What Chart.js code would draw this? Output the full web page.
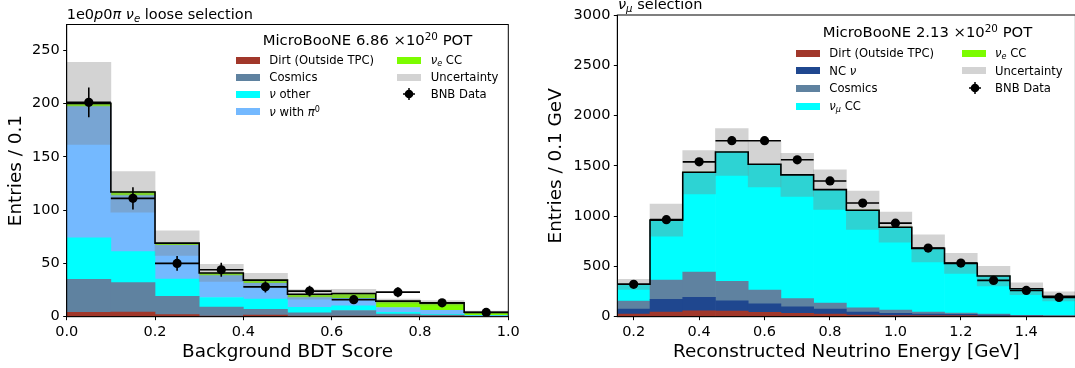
<!DOCTYPE html>
<html><head><meta charset="utf-8">
<script src="https://cdn.jsdelivr.net/npm/chart.js@4.4.1/dist/chart.umd.min.js"></script>
<style>
html,body{margin:0;padding:0;overflow:hidden;background:#fff;width:1075px;height:368px;}
body{position:relative;font-family:"DejaVu Sans",sans-serif;color:#000;}
canvas{position:absolute;top:0;}
#c1{left:0;} #c2{left:540px;}
.t{position:absolute;white-space:nowrap;line-height:14.5px;font-size:14.5px;}
.lt{position:absolute;white-space:nowrap;line-height:18px;font-size:14.8px;}
.li{position:absolute;white-space:nowrap;line-height:14px;font-size:11.6px;}
.sw{position:absolute;width:24px;height:7px;}
.sup{font-size:70%;position:relative;top:-0.5em;}
.sub{font-size:70%;position:relative;top:0.3em;}
.mk{position:absolute;width:14px;height:14px;}
</style>
</head><body>
<canvas id="c1" width="540" height="368"></canvas>
<canvas id="c2" width="540" height="368"></canvas>

<div class="t" style="left:66.7px;top:6.7px;">1e0<i>p</i>0<i>π</i> <i>ν</i><span class="sub"><i>e</i></span> loose selection</div>
<div class="t" style="left:618px;top:-2.8px;"><i>ν</i><span class="sub"><i>μ</i></span> selection</div>

<!-- left legend -->
<div class="lt" style="left:262.7px;top:31px;">MicroBooNE 6.86 ×10<span class="sup">20</span> POT</div>
<div class="sw" style="left:236px;top:56.5px;background:#a1372a"></div><div class="li" style="left:269.3px;top:53px;">Dirt (Outside TPC)</div>
<div class="sw" style="left:236px;top:73.8px;background:#5f82a0"></div><div class="li" style="left:269.3px;top:70.3px;">Cosmics</div>
<div class="sw" style="left:236px;top:90.5px;background:#00ffff"></div><div class="li" style="left:269.3px;top:87px;"><i>ν</i> other</div>
<div class="sw" style="left:236px;top:108.2px;background:#74b9ff"></div><div class="li" style="left:269.3px;top:104.7px;"><i>ν</i> with <i>π</i><span class="sup">0</span></div>
<div class="sw" style="left:396.7px;top:56.5px;background:#7cfc00"></div><div class="li" style="left:430.7px;top:53px;"><i>ν</i><span class="sub"><i>e</i></span> CC</div>
<div class="sw" style="left:396.7px;top:73.8px;background:#d3d3d3"></div><div class="li" style="left:430.7px;top:70.3px;">Uncertainty</div>
<svg class="mk" style="left:401.7px;top:87px;" viewBox="0 0 14 14"><line x1="1" y1="7" x2="13" y2="7" stroke="#000" stroke-width="1.5"/><line x1="7" y1="1" x2="7" y2="13" stroke="#000" stroke-width="1.5"/><circle cx="7" cy="7" r="4.3" fill="#000"/></svg>
<div class="li" style="left:430.7px;top:87px;">BNB Data</div>

<!-- right legend -->
<div class="lt" style="left:822.7px;top:23.3px;">MicroBooNE 2.13 ×10<span class="sup">20</span> POT</div>
<div class="sw" style="left:795.7px;top:49.5px;background:#a1372a"></div><div class="li" style="left:829.3px;top:46px;">Dirt (Outside TPC)</div>
<div class="sw" style="left:795.7px;top:67px;background:#1f478f"></div><div class="li" style="left:829.3px;top:63.5px;">NC <i>ν</i></div>
<div class="sw" style="left:795.7px;top:84.8px;background:#5f82a0"></div><div class="li" style="left:829.3px;top:81.3px;">Cosmics</div>
<div class="sw" style="left:795.7px;top:102.5px;background:#00ffff"></div><div class="li" style="left:829.3px;top:99px;"><i>ν</i><span class="sub"><i>μ</i></span> CC</div>
<div class="sw" style="left:961.7px;top:49.5px;background:#7cfc00"></div><div class="li" style="left:995px;top:46px;"><i>ν</i><span class="sub"><i>e</i></span> CC</div>
<div class="sw" style="left:961.7px;top:67px;background:#d3d3d3"></div><div class="li" style="left:995px;top:63.5px;">Uncertainty</div>
<svg class="mk" style="left:968px;top:81.3px;" viewBox="0 0 14 14"><line x1="1" y1="7" x2="13" y2="7" stroke="#000" stroke-width="1.5"/><line x1="7" y1="1" x2="7" y2="13" stroke="#000" stroke-width="1.5"/><circle cx="7" cy="7" r="4.3" fill="#000"/></svg>
<div class="li" style="left:995px;top:81.3px;">BNB Data</div>

<script>
// ---------- Left panel: 1e0p0pi nu_e loose selection ----------
const leftBinCenters = [0.05, 0.15, 0.25, 0.35, 0.45, 0.55, 0.65, 0.75, 0.85, 0.95];
const leftBinHalfWidth = 0.05;
const leftDirt    = [4, 4.3, 2, 0.5, 1.5, 0.3, 0.5, 0.3, 0.2, 0];
const leftCosmics = [31, 27.7, 17, 8.5, 5.5, 3.4, 5.3, 2.2, 1.3, 0.4];
const leftNuOther = [39, 29, 16.3, 9, 9.5, 5, 4.4, 1.5, 0.8, 0.3];
const leftNuPi0   = [123, 52.5, 31.7, 20.5, 14.8, 9.3, 7, 4.6, 3.7, 0.5];
const leftNueCC   = [3, 3.5, 2, 2.5, 3, 3, 4.6, 6, 7, 3];
const leftUncert  = [38.5, 19, 11.5, 8, 6.3, 4.5, 3.8, 2, 2, 1];
const leftData    = [201, 111, 50, 44, 28, 24, 16, 23, 13, 4];
const leftDataErr = [14, 10.5, 7, 6.5, 5.3, 5, 4, 4.7, 3.5, 2];
const leftXTicks = [0, 0.2, 0.4, 0.6, 0.8, 1.0];
const leftXTickLabels = ['0.0', '0.2', '0.4', '0.6', '0.8', '1.0'];
const leftYTicks = [0, 50, 100, 150, 200, 250];

// ---------- Right panel: nu_mu selection ----------
const rightBinCenters = [0.2, 0.3, 0.4, 0.5, 0.6, 0.7, 0.8, 0.9, 1.0, 1.1, 1.2, 1.3, 1.4, 1.5];
const rightBinHalfWidth = 0.05;
const rightDirt    = [27, 46, 58, 56, 43, 33, 26, 17, 10, 10, 10, 7, 3, 2];
const rightNC      = [50, 126, 135, 103, 86, 66, 50, 29, 23, 16, 13, 10, 5, 3];
const rightCosmics = [79, 192, 250, 192, 136, 80, 60, 43, 33, 20, 13, 9, 5, 3];
const rightNumuCC  = [165, 595, 992, 1285, 1249, 1229, 1126, 968, 822, 631, 492, 377, 264, 193];
const rightNueCC   = [1, 1, 2, 2, 2, 2, 2, 2, 2, 2, 2, 1, 1, 1];
const rightUncert  = [50, 160, 215, 233, 225, 215, 197, 190, 150, 135, 100, 98, 60, 45];
const rightData    = [322, 965, 1540, 1750, 1750, 1560, 1350, 1130, 930, 682, 533, 361, 261, 192];
const rightDataErr = [18, 31, 39, 42, 42, 39, 37, 34, 30, 26, 23, 19, 16, 14];
const rightXTicks = [0.2, 0.4, 0.6, 0.8, 1.0, 1.2, 1.4];
const rightXTickLabels = ['0.2', '0.4', '0.6', '0.8', '1.0', '1.2', '1.4'];
const rightYTicks = [0, 500, 1000, 1500, 2000, 2500, 3000];

const FONT = 'DejaVu Sans';
const UNC_COLOR = 'rgba(128,128,128,0.35)';

const framePlugin = {
  id: 'frame',
  afterDraw(chart) {
    const {ctx, chartArea: a} = chart;
    ctx.save();
    ctx.strokeStyle = '#000';
    ctx.lineWidth = 1;
    ctx.strokeRect(a.left, a.top, a.right - a.left, a.bottom - a.top);
    ctx.restore();
  }
};

function buildPanel(canvasId, p) {
  const centers = p.centers, hw = p.halfWidth;
  const totals = centers.map((_, i) => p.components.reduce((s, c) => s + c.values[i], 0));
  const datasets = [];
  p.components.forEach(c => {
    datasets.push({
      type: 'bar', label: c.label, stack: 'mc', order: 10, grouped: false,
      backgroundColor: c.color, borderWidth: 0,
      barPercentage: 1, categoryPercentage: 1,
      data: centers.map((x, i) => ({x, y: c.values[i]}))
    });
  });
  datasets.push({
    type: 'bar', label: 'Uncertainty', stack: 'unc', order: 5, grouped: false,
    backgroundColor: UNC_COLOR, borderWidth: 0,
    barPercentage: 1, categoryPercentage: 1,
    data: centers.map((x, i) => ({x, y: [totals[i] - p.uncert[i], totals[i] + p.uncert[i]]}))
  });
  const stepPts = centers.map((x, i) => ({x: x - hw, y: totals[i]}));
  stepPts.push({x: centers[centers.length - 1] + hw, y: totals[totals.length - 1]});
  datasets.push({
    type: 'line', label: 'total', stack: 'step', order: 3,
    data: stepPts, stepped: true, borderColor: '#000', borderWidth: 1.6,
    pointRadius: 0, fill: false
  });
  const hErr = [], vErr = [];
  centers.forEach((x, i) => {
    hErr.push({x: x - hw, y: p.data[i]}, {x: x + hw, y: p.data[i]}, {x: x + hw, y: null});
    vErr.push({x, y: p.data[i] - p.dataErr[i]}, {x, y: p.data[i] + p.dataErr[i]}, {x, y: null});
  });
  datasets.push({type: 'line', label: 'herr', stack: 'herr', order: 2, data: hErr, spanGaps: false,
    borderColor: '#000', borderWidth: 1.6, pointRadius: 0, fill: false});
  datasets.push({type: 'line', label: 'verr', stack: 'verr', order: 2, data: vErr, spanGaps: false,
    borderColor: '#000', borderWidth: 1.6, pointRadius: 0, fill: false});
  datasets.push({type: 'line', label: 'BNB Data', stack: 'pts', order: 1, showLine: false,
    data: centers.map((x, i) => ({x, y: p.data[i]})),
    pointRadius: 4.6, pointBackgroundColor: '#000', pointBorderColor: '#000', pointBorderWidth: 0});

  return new Chart(document.getElementById(canvasId), {
    type: 'bar',
    data: {datasets},
    plugins: [framePlugin],
    options: {
      responsive: false, animation: false, devicePixelRatio: 1,
      layout: {padding: p.padding},
      plugins: {legend: {display: false}, tooltip: {enabled: false}, title: {display: false}},
      scales: {
        x: {
          type: 'linear', offset: false, min: p.xmin, max: p.xmax, stacked: false,
          afterBuildTicks: (s) => { s.ticks = p.xTicks.map(v => ({value: v})); },
          afterFit: (s) => { s.height = p.xAxisHeight; },
          ticks: {autoSkip: false, maxRotation: 0, minRotation: 0, padding: 3.3, color: '#000',
            font: {family: FONT, size: 14.5}, callback: (v, i) => p.xTickLabels[i]},
          grid: {display: true, offset: false, drawOnChartArea: false, drawTicks: true, tickLength: 3.5, color: '#000', lineWidth: 1},
          border: {display: true, color: '#000', width: 1},
          title: {display: true, text: p.xTitle, color: '#000', font: {family: FONT, size: 18.4},
            padding: {top: 0, bottom: 4.5}}
        },
        y: {
          type: 'linear', stacked: true, min: 0, max: p.ymax,
          afterBuildTicks: (s) => { s.ticks = p.yTicks.map(v => ({value: v})); },
          afterFit: (s) => { s.width = p.yAxisWidth; },
          ticks: {padding: 3.4, color: '#000', font: {family: FONT, size: 14.5}, callback: (v) => String(v)},
          grid: {display: true, drawOnChartArea: false, drawTicks: true, tickLength: 3.5, color: '#000', lineWidth: 1},
          border: {display: true, color: '#000', width: 1},
          title: {display: true, text: p.yTitle, color: '#000', font: {family: FONT, size: 18.4},
            padding: {top: 5, bottom: 0}}
        }
      }
    }
  });
}

buildPanel('c1', {
  centers: leftBinCenters, halfWidth: leftBinHalfWidth,
  components: [
    {label: 'Dirt (Outside TPC)', color: '#a1372a', values: leftDirt},
    {label: 'Cosmics', color: '#5f82a0', values: leftCosmics},
    {label: 'ν other', color: '#00ffff', values: leftNuOther},
    {label: 'ν with π0', color: '#74b9ff', values: leftNuPi0},
    {label: 'νe CC', color: '#7cfc00', values: leftNueCC}
  ],
  uncert: leftUncert, data: leftData, dataErr: leftDataErr,
  xmin: 0, xmax: 1, ymax: 274,
  xTicks: leftXTicks, xTickLabels: leftXTickLabels, yTicks: leftYTicks,
  xTitle: 'Background BDT Score', yTitle: 'Entries / 0.1',
  padding: {top: 24.5, right: 31.7, bottom: 0, left: 0},
  xAxisHeight: 51.3, yAxisWidth: 66.7
});

buildPanel('c2', {
  centers: rightBinCenters, halfWidth: rightBinHalfWidth,
  components: [
    {label: 'Dirt (Outside TPC)', color: '#a1372a', values: rightDirt},
    {label: 'NC ν', color: '#1f478f', values: rightNC},
    {label: 'Cosmics', color: '#5f82a0', values: rightCosmics},
    {label: 'νμ CC', color: '#00ffff', values: rightNumuCC},
    {label: 'νe CC', color: '#7cfc00', values: rightNueCC}
  ],
  uncert: rightUncert, data: rightData, dataErr: rightDataErr,
  xmin: 0.15, xmax: 1.55, ymax: 3000,
  xTicks: rightXTicks, xTickLabels: rightXTickLabels, yTicks: rightYTicks,
  xTitle: 'Reconstructed Neutrino Energy [GeV]', yTitle: 'Entries / 0.1 GeV',
  padding: {top: 15, right: 4, bottom: 0, left: 0},
  xAxisHeight: 51.3, yAxisWidth: 77.3
});
</script>
</body></html>
